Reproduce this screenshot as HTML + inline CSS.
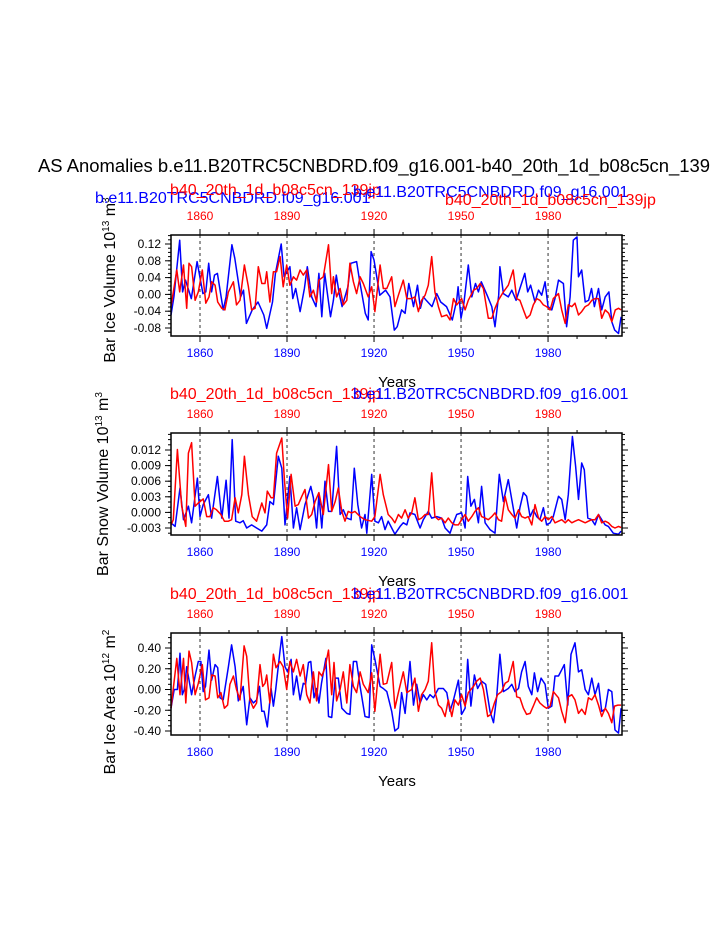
<!DOCTYPE html>
<html><head><meta charset="utf-8"><style>
html,body{margin:0;padding:0;background:#fff;}
svg{display:block;font-family:"Liberation Sans",Arial,sans-serif;}
</style></head><body>
<svg id="fig" width="723" height="935" viewBox="0 0 723 935" xmlns="http://www.w3.org/2000/svg">
<text x="38" y="172" font-size="18" textLength="672" lengthAdjust="spacingAndGlyphs" fill="#000">AS Anomalies b.e11.B20TRC5CNBDRD.f09_g16.001-b40_20th_1d_b08c5cn_139</text>
<g id="plots"></g>
</svg>
<script>
const b1Years=[1850,1851,1853,1854,1855,1857,1859,1861,1862,1863,1864,1865,1866,1868,1869,1871,1872,1874,1875,1876,1878,1880,1882,1883,1885,1886,1888,1889,1891,1892,1893,1894.5,1896,1897,1898.5,1900,1901,1902,1903,1905,1906,1907,1908,1909,1911,1912,1914,1915,1917,1918,1919,1920,1922,1924,1925.5,1927,1928,1929.5,1930.7,1932,1933.6,1935,1936,1937,1938,1940,1941.6,1943,1945,1947,1948.5,1949,1950,1951,1952.5,1953.7,1955,1956,1957,1959,1960.6,1961.7,1963,1963.4,1964.6,1966.3,1967.5,1969,1970.3,1972,1973,1974,1975.5,1976.7,1977.8,1979,1980,1981.3,1982.4,1983.6,1985.3,1986.4,1987.6,1988.7,1990,1990.5,1991.6,1992.8,1994,1995,1996,1997.4,1998.5,1999.7,2001,2002,2003,2004.3,2005.2];
const b1Vals=[-.049,-.006,.129,.006,.034,-.010,.078,.002,.006,.074,.006,.046,.050,-.037,-.006,.118,.086,-.006,.010,-.069,-.037,-.018,-.049,-.081,-.018,.050,.120,.042,.066,-.010,.014,-.041,.014,.066,-.006,-.029,.050,-.053,.050,-.053,-.014,.046,.002,-.029,.018,.074,.078,.034,-.045,-.061,.102,.082,-.002,.010,-.006,-.085,-.077,-.037,-.045,.026,-.029,.022,-.033,-.006,-.014,-.029,.002,-.018,-.029,-.061,-.014,.018,-.057,-.021,.070,-.006,.026,.006,.030,-.002,-.029,-.077,-.002,.066,.002,-.006,.010,-.014,.014,.050,.006,.022,-.018,.010,-.002,.030,-.029,-.037,-.010,.034,.026,-.077,-.006,.129,.137,.042,.058,-.018,-.014,.014,-.029,.014,-.037,-.006,.006,-.065,-.085,-.093,-.053];
const r1Years=[1850,1852,1853,1854.3,1855.4,1856.2,1857.1,1858.3,1859.4,1860.8,1862,1863.1,1864,1865.2,1866.1,1867.5,1868.6,1869.8,1871.5,1872.6,1873.8,1875.3,1876.7,1877.8,1879,1880.1,1881.3,1882.4,1883,1884.1,1885.3,1886.4,1887.6,1888.7,1889.9,1891,1892.2,1893.3,1894.5,1895.6,1896.8,1897.9,1899.1,1900.2,1901,1902.5,1904.3,1905.4,1906,1907.1,1908.3,1909.4,1910.6,1911.7,1912.9,1914,1915.2,1916.3,1918,1919.2,1920.3,1922.1,1923.2,1924.4,1926.1,1927.2,1928.4,1930.1,1931.3,1933,1934.1,1935.3,1936.4,1937.6,1938.7,1939.9,1941,1942.2,1943.3,1945.1,1946.2,1947.4,1948.5,1950.2,1951.4,1952.5,1954.3,1955.4,1956.6,1957.7,1959.4,1960.6,1961.7,1962.9,1964.6,1966.3,1968,1969.2,1970.3,1971.5,1972.6,1973.8,1974.9,1976.1,1977.2,1978.4,1979.5,1980.7,1981.8,1983.6,1984.7,1985.9,1987,1988.2,1989.3,1990.5,1991.6,1992.8,1993.9,1995.1,1996.2,1997.4,1998.5,1999.7,2000.9,2002,2003.2,2004.3,2005.2];
const r1Vals=[-.029,.058,.006,.070,-.033,.074,.066,-.014,.006,.058,-.021,-.006,.030,.022,-.018,-.033,-.037,.006,.030,-.025,-.014,.070,.018,-.037,-.033,.066,.026,.026,.054,-.018,.054,.054,.090,.018,.070,.022,.042,.034,.058,.046,.058,-.006,.010,-.018,.034,.042,.118,.002,.042,-.006,.014,-.025,-.014,.074,.030,.002,.042,.026,-.006,.018,-.041,.070,.014,.014,.042,-.029,-.002,.034,-.010,-.010,-.006,-.041,-.014,-.002,.022,.090,.006,-.029,-.053,-.049,-.061,-.010,-.025,-.010,-.037,-.014,.010,.014,.026,.014,-.057,-.057,-.033,-.014,.006,.022,.058,-.010,-.014,-.037,-.057,-.049,-.025,-.010,-.014,-.025,-.029,-.037,-.010,.002,-.037,-.069,-.025,-.029,-.021,-.049,-.041,-.029,-.025,-.014,-.010,-.010,-.057,-.037,-.045,-.065,-.037,-.033,-.037];
const b2Years=[1850,1851.4,1853.1,1854.3,1856,1857.1,1859.1,1860,1861.1,1862.9,1864,1866,1867.5,1869,1870,1871.1,1872.3,1873.8,1874.9,1876.1,1877.8,1879.5,1881.3,1883,1884.1,1885.3,1887,1888.2,1889.3,1891,1892.2,1893.3,1894.5,1896.2,1898.2,1899.1,1900.2,1901,1902,1903.1,1904.3,1905.4,1907.1,1908.3,1909.4,1910.6,1912.1,1913.2,1914.4,1915.7,1916.9,1917.5,1919.2,1920.3,1921.5,1922.6,1923.8,1924.9,1926.1,1927.2,1929,1930.1,1931.3,1932.4,1934.1,1935.9,1937,1938.7,1939.9,1941.6,1943.3,1944.5,1946.2,1947.4,1948.5,1950.2,1951.4,1952.3,1953.4,1954.6,1956,1957.1,1958.3,1960,1961.7,1963.2,1964.6,1966.3,1968,1969.2,1970.3,1971.5,1972.6,1973.8,1974.9,1976.1,1977.2,1978.4,1979.5,1980.7,1981.8,1983.6,1984.7,1985.9,1987,1988.4,1989.5,1990.5,1991.6,1992.5,1993.7,1995.1,1996.2,1997.4,1998.5,1999.7,2000.8,2002.5,2004.3,2005.2];
const b2Vals=[-.0020,-.0027,.0047,-.0014,.0012,-.0020,.0066,-.0008,.0015,.0034,-.0011,.0069,-.0011,.0062,-.0011,.0140,-.0017,-.0020,-.0016,-.0030,-.0024,-.0030,-.0036,-.0024,.0021,.0015,.0108,.0085,-.0024,.0069,-.0030,.0009,-.0033,.0015,.0050,.0028,-.0030,.0034,-.0030,.0060,.0002,.0002,.0127,-.0004,.0005,-.0011,-.0014,.0085,.0015,-.0030,-.0004,-.0040,.0073,-.0017,-.0020,-.0008,-.0033,-.0017,-.0030,-.0042,-.0027,-.0020,-.0024,-.0001,-.0004,-.0030,-.0014,.0002,-.0011,-.0008,-.0011,-.0030,-.0040,-.0020,-.0004,-.0001,-.0030,.0069,.0012,.0025,-.0020,.0050,-.0020,-.0033,-.0040,.0073,.0021,.0063,.0009,-.0030,.0009,.0038,.0031,-.0008,.0005,-.0008,-.0014,.0009,-.0024,-.0020,-.0008,.0031,.0025,-.0014,.0034,.0146,.0089,.0025,.0095,.0082,-.0011,-.0014,-.0024,-.0004,-.0014,-.0024,-.0027,-.0040,-.0042,-.0036];
const r2Years=[1850,1850.8,1852.2,1853.7,1855.1,1856,1857.1,1858.3,1859.4,1861.1,1862.3,1863.4,1864.6,1865.7,1867.2,1868.4,1869.8,1870.9,1872.1,1873.2,1874.4,1875.3,1876.7,1878,1879.5,1881.3,1882.4,1883.2,1884.5,1885.3,1886.4,1888.2,1889.1,1890.2,1891.4,1892.8,1893.9,1895.1,1896.2,1897.4,1898.5,1899.7,1901,1902.5,1904.3,1905.4,1906.6,1907.7,1908.9,1910,1911.1,1912.3,1913.4,1915.2,1916.9,1919.2,1920.3,1922.1,1923.2,1924.9,1926.1,1927.2,1928.4,1929.5,1930.7,1931.8,1933,1934.1,1935.3,1936.4,1937.6,1938.7,1939.9,1941,1942.2,1943.3,1944.5,1945.6,1946.8,1947.9,1949.1,1950.2,1951.4,1952.5,1953.7,1954.8,1956,1957.1,1958.3,1959.4,1960.6,1961.7,1962.9,1964,1965.2,1966.3,1967.5,1968.6,1969.8,1970.9,1972.1,1973.2,1974.4,1975.5,1976.7,1977.8,1979,1980.1,1981.3,1982.4,1983.6,1984.7,1985.9,1987,1988.2,1989.3,1990.5,1991.6,1992.8,1993.9,1995.1,1996.2,1997.4,1998.5,1999.7,2000.8,2002,2003.1,2004.3,2005.2];
const r2Vals=[-.0024,-.0014,.0121,.0012,-.0027,.0114,.0134,.0012,.0018,.0026,-.0008,-.0008,.0009,.0005,-.0004,-.0017,-.0017,-.0014,.0028,-.0001,.0034,.0108,.0034,-.0008,-.0017,.0018,-.0001,.0041,.0028,.0028,.0114,.0143,.0063,-.0011,.0073,.0012,.0015,.0031,.0044,-.0011,-.0004,.0021,.0038,-.0004,.0092,.0002,.0021,.0047,.0002,-.0017,.0002,-.0001,.0002,-.0008,-.0014,-.0017,-.0008,.0073,.0034,-.0004,-.0011,-.0020,-.0004,-.0011,.0005,-.0011,-.0001,.0028,-.0014,-.0011,-.0004,-.0004,.0076,-.0008,-.0014,-.0011,-.0020,-.0011,-.0020,-.0024,-.0024,-.0014,-.0004,-.0017,-.0008,.0002,.0009,-.0008,-.0011,-.0014,-.0008,-.0001,-.0014,-.0017,.0031,.0005,-.0004,-.0011,.0005,-.0008,-.0011,-.0008,-.0024,.0015,-.0011,-.0017,-.0008,-.0014,-.0008,-.0020,-.0017,-.0014,-.0020,-.0014,-.0020,-.0017,-.0014,-.0017,-.0020,-.0017,-.0014,-.0014,-.0004,-.0020,-.0017,-.0020,-.0027,-.0030,-.0027,-.0029];
const b3Years=[1850,1851.1,1852.2,1853.1,1853.9,1854.6,1855.4,1857.1,1858.3,1859.4,1860.3,1861.1,1861.9,1863.1,1864,1865.2,1866.1,1866.9,1868,1869.8,1870.9,1872.1,1873.2,1874.9,1876.1,1877.2,1878.4,1879.5,1880.5,1881.3,1882.1,1883.2,1884.5,1885.3,1886.1,1887.6,1888.2,1889.3,1890.2,1891.4,1892.2,1893.3,1894.5,1895.6,1896.4,1897.4,1898.2,1899.3,1900.2,1901,1901.9,1903.4,1904.3,1905.4,1906.6,1907.7,1908.9,1910.6,1911.7,1912.9,1914,1915.2,1916.9,1918.3,1919.2,1920.3,1922.1,1923.2,1924.4,1926.1,1927.2,1928.4,1929.5,1930.7,1932.4,1933.6,1934.7,1935.9,1937,1938.2,1939.3,1940.5,1942.2,1943.9,1945.1,1946.2,1947.4,1949.1,1950.2,1951.4,1952.3,1953.4,1954.6,1955.7,1957.1,1958.5,1960,1961.2,1962.3,1963.4,1964.6,1966.3,1967.5,1968.6,1969.8,1970.9,1972.1,1973.2,1974.4,1975.3,1976.4,1977.6,1979,1980.1,1981.3,1982.4,1983.6,1984.7,1985.6,1986.8,1987.9,1989.3,1990.5,1991.6,1992.8,1993.9,1995.1,1996.2,1997.4,1998.5,1999.7,2000.8,2002,2003.1,2004.3,2005.2];
const b3Vals=[-.18,.00,.00,.35,-.05,.00,.22,-.05,.13,.27,.27,-.02,.03,.38,.09,.24,.21,-.08,-.10,.22,.43,.22,-.11,.03,-.34,-.08,-.13,-.10,.03,-.21,-.21,-.36,.01,-.16,.00,.38,.51,.22,.17,.29,-.05,.13,-.10,.06,.05,.26,.27,-.08,.01,-.13,.06,.30,-.26,-.27,.11,.11,-.18,-.23,-.24,.27,.27,.03,-.26,-.27,.43,.29,.03,.01,-.02,-.21,-.40,-.37,-.03,-.23,.27,-.15,.05,-.13,-.05,-.10,-.05,-.08,.01,.01,-.03,-.21,-.10,.09,-.24,-.18,.29,-.16,.14,.01,.08,.05,-.21,-.32,-.07,.34,-.02,.01,.05,-.02,.01,.17,.27,.03,-.05,.16,-.02,.11,.05,-.18,-.16,.13,.13,.19,.24,-.15,.34,.45,.17,.19,.00,-.05,.11,-.05,.06,-.21,-.19,.00,-.02,-.39,-.42,-.18];
const r3Years=[1850,1852,1853.1,1854.3,1855.1,1856.2,1857.1,1858.3,1859.4,1860.8,1861.9,1863.1,1864,1865.2,1866.1,1867.2,1868.4,1869.5,1870.3,1871.5,1872.6,1873.8,1875.2,1876.1,1877.2,1878.4,1879.5,1880.7,1881.6,1882.4,1883,1884.1,1885.3,1886.2,1887.6,1888.7,1889.9,1891,1892.2,1893.3,1894.5,1895.6,1896.8,1897.9,1899.1,1900.2,1901,1902,1903.1,1904.3,1905.4,1906.2,1907.1,1908.3,1909.4,1910.6,1911.7,1912.9,1914,1915.2,1916.3,1918,1919.2,1920.3,1922.1,1923.2,1924.4,1926.1,1927.2,1928.4,1930.1,1931.3,1933,1934.1,1935.3,1936.4,1937.6,1938.7,1939.9,1941,1942.2,1943.3,1944.5,1945.6,1946.8,1947.9,1949.1,1950.2,1951.4,1952.5,1954.3,1955.4,1956.6,1957.7,1959.2,1960.3,1961.5,1962.6,1964,1965.2,1966.3,1968,1969.2,1970.3,1971.5,1972.6,1973.8,1974.9,1976.1,1977.2,1978.4,1979.5,1980.7,1981.8,1983.6,1984.7,1985.9,1987,1988.2,1989.3,1990.5,1991.6,1992.8,1993.9,1995.1,1996.2,1997.4,1998.5,1999.7,2000.8,2002,2002.9,2004.1,2005.2];
const r3Vals=[-.18,.30,-.05,.30,-.13,.37,.26,-.05,.06,.24,-.10,-.08,.14,.13,-.08,-.03,-.18,-.15,.05,.13,.00,-.10,.42,.32,-.10,-.18,-.13,.24,.03,.06,.14,-.13,.34,.21,.27,.22,.00,.27,.17,.29,.13,.24,-.05,-.13,.17,-.11,.17,.13,.21,.38,-.05,.26,-.11,.00,.17,-.13,.24,.03,-.03,.17,.05,-.03,.16,-.21,.34,.05,.06,.26,-.18,-.03,.17,-.03,.00,.11,-.21,-.05,.00,.08,.45,-.02,-.15,-.18,-.26,-.10,-.26,-.10,-.15,-.05,-.16,-.03,.03,.08,.11,.00,-.26,-.24,-.13,-.05,-.02,.06,.08,.27,-.07,-.08,-.18,-.24,-.23,-.16,-.08,-.13,-.16,-.18,-.16,-.02,-.08,-.21,-.32,-.07,-.05,-.10,-.23,-.19,-.24,-.08,-.10,-.05,-.15,-.26,-.18,-.23,-.32,-.16,-.15,-.15];
const yearTicks=[1860,1890,1920,1950,1980];
const p1Ticks=[0.12,0.08,0.04,0.00,-0.04,-0.08];
const p1Labels=["0.12","0.08","0.04","0.00","-0.04","-0.08"];
const p2Ticks=[0.012,0.009,0.006,0.003,0.000,-0.003];
const p2Labels=["0.012","0.009","0.006","0.003","0.000","-0.003"];
const p3Ticks=[0.4,0.2,0.0,-0.2,-0.4];
const p3Labels=["0.40","0.20","0.00","-0.20","-0.40"];

const NS="http://www.w3.org/2000/svg";
const root=document.getElementById('plots');
const X0=171,X1=622,YR0=1850,YR1=2005.5;
function xs(yr){return X0+(yr-YR0)*(X1-X0)/(YR1-YR0);}
function mk(tag,attrs,parent){const e=document.createElementNS(NS,tag);for(const k in attrs)e.setAttribute(k,attrs[k]);(parent||root).appendChild(e);return e;}

const panels=[
 {top:235,bot:336,vTop:0.12,yTop:244,vBot:-0.08,yBot:328,ticks:p1Ticks,labels:p1Labels,minor:0.01,
  series:[[b1Years,b1Vals,'#0000ff'],[r1Years,r1Vals,'#ff0000']],
  ytitle:'Bar Ice Volume 10',exp1:'13',unit:' m',exp2:'3',ytx:115,ycy:280,
  titles:[['b.e11.B20TRC5CNBDRD.f09_g16.001',95,203,'#0000ff'],['b40_20th_1d_b08c5cn_139jp',170,195,'#ff0000'],['b.e11.B20TRC5CNBDRD.f09_g16.001',353,197,'#0000ff'],['b40_20th_1d_b08c5cn_139jp',445,205,'#ff0000']]},
 {top:433,bot:535,vTop:0.012,yTop:450,vBot:-0.003,yBot:528,ticks:p2Ticks,labels:p2Labels,minor:0.001,
  series:[[b2Years,b2Vals,'#0000ff'],[r2Years,r2Vals,'#ff0000']],
  ytitle:'Bar Snow Volume 10',exp1:'13',unit:' m',exp2:'3',ytx:108,ycy:484,
  titles:[['b40_20th_1d_b08c5cn_139jp',170,399,'#ff0000'],['b.e11.B20TRC5CNBDRD.f09_g16.001',353,399,'#0000ff']]},
 {top:633,bot:735,vTop:0.4,yTop:648,vBot:-0.4,yBot:731,ticks:p3Ticks,labels:p3Labels,minor:0.05,
  series:[[b3Years,b3Vals,'#0000ff'],[r3Years,r3Vals,'#ff0000']],
  ytitle:'Bar Ice Area 10',exp1:'12',unit:' m',exp2:'2',ytx:115,ycy:702,
  titles:[['b40_20th_1d_b08c5cn_139jp',170,599,'#ff0000'],['b.e11.B20TRC5CNBDRD.f09_g16.001',353,599,'#0000ff']]}
];

panels.forEach((p,pi)=>{
  const g=mk('g',{});
  
  
  const ys=v=>p.yTop+(p.vTop-v)*(p.yBot-p.yTop)/(p.vTop-p.vBot);
  const vAtTop=p.vTop+(p.yTop-p.top)*(p.vTop-p.vBot)/(p.yBot-p.yTop);
  const vAtBot=p.vBot-(p.bot-p.yBot)*(p.vTop-p.vBot)/(p.yBot-p.yTop);
  yearTicks.forEach(yr=>{
    const l=mk('line',{x1:xs(yr),x2:xs(yr),y1:p.top,y2:p.bot,stroke:'#000','stroke-width':0.8,'stroke-dasharray':'3,3'},g);
    
    
  });
  p.series.forEach(([yrs,vals,col],si)=>{
    let d='';
    yrs.forEach((yr,i)=>{d+=(i?'L':'M')+xs(yr).toFixed(1)+','+ys(vals[i]).toFixed(1);});
    const path=mk('path',{d:d,fill:'none',stroke:col,'stroke-width':1.5,'stroke-linejoin':'round'},g);
    
    
  });
  const box=mk('rect',{x:X0,y:p.top,width:X1-X0,height:p.bot-p.top,fill:'none',stroke:'#000','stroke-width':1.5},g);
  
  
  for(let yr=1860;yr<=2000;yr+=10){
    const major=yearTicks.includes(yr);
    const len=major?6:3;
    mk('line',{x1:xs(yr),x2:xs(yr),y1:p.top,y2:p.top-len,stroke:'#000','stroke-width':1},g);
    mk('line',{x1:xs(yr),x2:xs(yr),y1:p.bot,y2:p.bot+len,stroke:'#000','stroke-width':1},g);
  }
  yearTicks.forEach(yr=>{
    const t1=mk('text',{x:xs(yr),y:p.top-15,'font-size':12,'text-anchor':'middle',fill:'#ff0000'},g);
    t1.textContent=yr;
    
    
    const t2=mk('text',{x:xs(yr),y:p.bot+21,'font-size':12,'text-anchor':'middle',fill:'#0000ff'},g);
    t2.textContent=yr;
    
    
  });
  const n=Math.round((vAtTop-vAtBot)/p.minor)+2;
  const start=Math.ceil(vAtBot/p.minor)*p.minor;
  for(let k=0;k<n;k++){
    const v=start+k*p.minor;if(v>vAtTop+1e-9)break;
    const y=ys(v);
    mk('line',{x1:X0,x2:X0-3,y1:y,y2:y,stroke:'#000','stroke-width':1},g);
    mk('line',{x1:X1,x2:X1+3,y1:y,y2:y,stroke:'#000','stroke-width':1},g);
  }
  p.ticks.forEach((v,i)=>{
    const y=ys(v);
    mk('line',{x1:X0,x2:X0-6,y1:y,y2:y,stroke:'#000','stroke-width':1},g);
    mk('line',{x1:X1,x2:X1+6,y1:y,y2:y,stroke:'#000','stroke-width':1},g);
    const t=mk('text',{x:X0-10,y:y+4,'font-size':12,'text-anchor':'end',fill:'#000'},g);
    t.textContent=p.labels[i];
    
    
  });
  const yt=mk('text',{x:0,y:0,'font-size':16,'text-anchor':'middle',fill:'#000',transform:'translate('+p.ytx+','+p.ycy+') rotate(-90)'},g);
  
  
  yt.appendChild(document.createTextNode(p.ytitle));
  const s1=mk('tspan',{'font-size':10,dy:-6},yt);s1.textContent=p.exp1;
  const s2=mk('tspan',{dy:6},yt);s2.textContent=p.unit;
  const s3=mk('tspan',{'font-size':10,dy:-6},yt);s3.textContent=p.exp2;
  const xt=mk('text',{x:397,y:p.bot+51,'font-size':15,'text-anchor':'middle',fill:'#000'},g);
  xt.textContent='Years';
  
  
  p.titles.forEach(([txt,x,y,c])=>{
    const t=mk('text',{x:x,y:y,'font-size':16,fill:c},g);
    t.textContent=txt;
    
    
  });
});
</script>
</body></html>
